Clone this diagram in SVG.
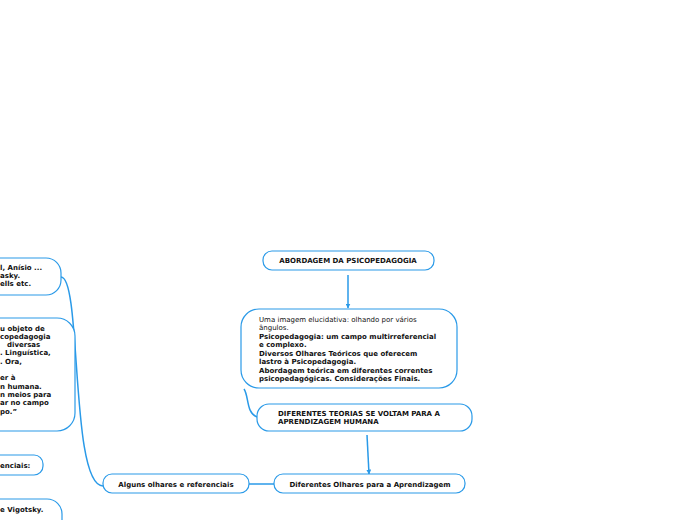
<svg xmlns="http://www.w3.org/2000/svg" width="696" height="520" viewBox="0 0 696 520">
<defs>
<style>
.n{fill:#fff;stroke:#2a9ae8;stroke-width:1.2}
.c{fill:none;stroke:#2a9ae8;stroke-width:1.5}
text{font-family:"DejaVu Sans",Verdana,sans-serif;font-size:7px;fill:#111}
.b{font-weight:bold}
.m{text-anchor:middle}
</style>
<marker id="ah" viewBox="0 0 10 10" refX="9" refY="5" markerWidth="5" markerHeight="5" orient="auto" markerUnits="userSpaceOnUse">
<path d="M0,0 L10,5 L0,10 z" fill="#2a9ae8"/>
</marker>
</defs>
<rect width="696" height="520" fill="#fff"/>
<g id="connectors">
<path class="c" d="M348 275 L348 308" marker-end="url(#ah)"/>
<path class="c" d="M367 435 L369 474" marker-end="url(#ah)"/>
<path class="c" d="M244 389 C249 396 246 413 257 417"/>
<path class="c" d="M249 484 L274 484"/>
<path class="c" d="M61 277 C82 277 70 486 103 486"/>
</g>
<g id="n1">
<rect class="n" x="263" y="251" width="171" height="19" rx="9"/>
<text class="b m" x="348" y="263">ABORDAGEM DA PSICOPEDAGOGIA</text>
</g>
<g id="n2">
<rect class="n" x="241" y="309" width="216" height="79" rx="18"/>
<text x="259" y="321.5">Uma imagem elucidativa: olhando por vários</text>
<text x="259" y="329.5">ângulos.</text>
<text class="b" x="259" y="339">Psicopedagogia: um campo multirreferencial</text>
<text class="b" x="259" y="347">e complexo.</text>
<text class="b" x="259" y="356">Diversos Olhares Teóricos que oferecem</text>
<text class="b" x="259" y="364">lastro à Psicopedagogia.</text>
<text class="b" x="259" y="373">Abordagem teórica em diferentes correntes</text>
<text class="b" x="259" y="381">psicopedagógicas. Considerações Finais.</text>
</g>
<g id="n3">
<rect class="n" x="257" y="404" width="215" height="27" rx="12"/>
<text class="b" x="278" y="415.5">DIFERENTES TEORIAS SE VOLTAM PARA A</text>
<text class="b" x="278" y="424">APRENDIZAGEM HUMANA</text>
</g>
<g id="n4">
<rect class="n" x="274" y="474" width="191" height="19" rx="9"/>
<text class="b m" x="370" y="486.5">Diferentes Olhares para a Aprendizagem</text>
</g>
<g id="n5">
<rect class="n" x="103" y="474" width="146" height="19" rx="9"/>
<text class="b m" x="176" y="486.5">Alguns olhares e referenciais</text>
</g>
<g id="n6">
<rect class="n" x="-40" y="258" width="101" height="37" rx="15"/>
<text class="b" x="0" y="270">l, Anísio ...</text>
<text class="b" x="0" y="278">asky.</text>
<text class="b" x="0" y="286">ells etc.</text>
</g>
<g id="n7">
<rect class="n" x="-40" y="318" width="115" height="113" rx="18"/>
<text class="b" x="0" y="331">u objeto de</text>
<text class="b" x="0" y="339">copedagogia</text>
<text class="b" x="7" y="347">diversas</text>
<text class="b" x="0" y="355">. Linguística,</text>
<text class="b" x="0" y="364">. Ora,</text>
<text class="b" x="0" y="380">er à</text>
<text class="b" x="0" y="389">n humana.</text>
<text class="b" x="0" y="397">n meios para</text>
<text class="b" x="0" y="405">ar no campo</text>
<text class="b" x="0" y="414">po.”</text>
</g>
<g id="n8">
<rect class="n" x="-40" y="455" width="83" height="20" rx="9"/>
<text class="b" x="0" y="467.5">enciais:</text>
</g>
<g id="n9">
<rect class="n" x="-40" y="499" width="102" height="40" rx="15"/>
<text class="b" x="0" y="512">e Vigotsky.</text>
</g>
</svg>
